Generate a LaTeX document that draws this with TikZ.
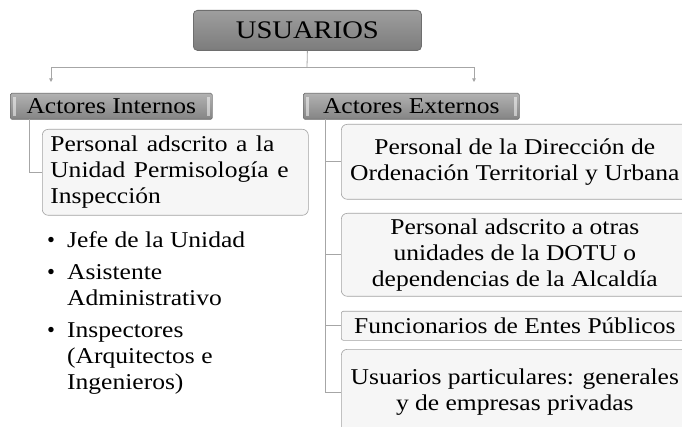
\documentclass[tikz,border=0pt]{standalone}
\usepackage{fontspec}
\setmainfont{Liberation Serif}
\usetikzlibrary{arrows.meta}
\newcommand\hs[1]{\scalebox{1.13}[1]{#1}}
\definecolor{linegray}{HTML}{A6A6A6}
\definecolor{boxborder}{HTML}{A3A3A3}
\definecolor{boxfill}{HTML}{F6F6F6}
\definecolor{ttop}{HTML}{9E9E9E}
\definecolor{tbot}{HTML}{7C7C7C}
\definecolor{hdtop}{HTML}{B2B2B2}
\definecolor{hdbot}{HTML}{848484}
\definecolor{hdborder}{HTML}{6E6E6E}
\tikzset{
  head/.style={draw=hdborder, top color=ttop, bottom color=tbot, rounded corners=4pt, inner sep=0pt, line width=0.8pt},
  sub/.style={draw=hdborder, top color=hdtop, bottom color=hdbot, rounded corners=1.5pt, inner sep=0pt, line width=0.6pt},
  card/.style={draw=boxborder, fill=boxfill, rounded corners=6pt, inner sep=0pt, line width=0.6pt},
  conn/.style={draw=linegray, line width=0.8pt},
  arr/.style={conn, -{Triangle[width=3.5pt,length=3.5pt]}},
  body/.style={font=\fontsize{22.6}{26}\selectfont},
  bevel/.style={fill=white, fill opacity=0.5},
}
\begin{document}
\begin{tikzpicture}[x=1pt,y=-1pt]
\clip (0,0) rectangle (682,427);
\fill[white] (0,0) rectangle (682,427);

% title
\node[head, minimum width=228pt, minimum height=40pt, anchor=north west,
      font=\fontsize{25.3}{30}\selectfont] (usr) at (193,10) {\hs{USUARIOS}};

% second level
\node[sub, body, minimum width=202pt, minimum height=26pt, anchor=north west] (int) at (10,93) {\hs{Actores Internos}};
\node[sub, body, minimum width=216pt, minimum height=26pt, anchor=north west] (ext) at (303,93) {\hs{Actores Externos}};
\fill[bevel] ([xshift=3pt,yshift=-4pt]int.north west) rectangle ([xshift=5.5pt,yshift=4pt]int.south west);
\fill[bevel] ([xshift=-5.5pt,yshift=-4pt]int.north east) rectangle ([xshift=-3pt,yshift=4pt]int.south east);
\fill[bevel] ([xshift=3pt,yshift=-4pt]ext.north west) rectangle ([xshift=5.5pt,yshift=4pt]ext.south west);
\fill[bevel] ([xshift=-5.5pt,yshift=-4pt]ext.north east) rectangle ([xshift=-3pt,yshift=4pt]ext.south east);

% connectors from title
\coordinate (j) at (307,67);
\coordinate (ai) at (51,82);
\coordinate (ae) at (474,82);
\draw[conn] (usr.south) -- (j);
\draw[arr] (j) -| (ai);
\draw[arr] (j) -| (ae);

% left branch
\node[card, body, minimum width=266pt, minimum height=86pt, text width=250pt, align=left,
      anchor=north west] (pa) at (42,129)
  {\hs{Personal adscrito a la}\\\hs{Unidad Permisología e}\\\hs{Inspección}};
\coordinate (ti) at (29,119);
\draw[conn] (ti) |- (pa.west);

\node[body, inner sep=0pt, anchor=north west] (lst) at (47,228.8) {%
  \begin{tabular}{@{}p{20pt}@{}l@{}}
  \textbullet & \hs{Jefe de la Unidad}\\[6pt]
  \textbullet & \hs{Asistente}\\
              & \hs{Administrativo}\\[6pt]
  \textbullet & \hs{Inspectores}\\
              & \hs{(Arquitectos e}\\
              & \hs{Ingenieros)}
  \end{tabular}};

% right branch
\node[card, body, minimum width=347pt, minimum height=75pt, align=center, anchor=north west] (b1) at (341,124)
  {\hs{Personal de la Dirección de}\\\hs{Ordenación Territorial y Urbana}};
\node[card, body, minimum width=347pt, minimum height=83pt, align=center, anchor=north west] (b2) at (341,213)
  {\hs{Personal adscrito a otras}\\\hs{unidades de la DOTU o}\\\hs{dependencias de la Alcaldía}};
\node[card, body, minimum width=347pt, minimum height=29pt, rounded corners=2pt, align=center, anchor=north west] (b3) at (341,311)
  {\hs{Funcionarios de Entes Públicos}};
\node[card, body, minimum width=347pt, minimum height=86pt, align=center, anchor=north west] (b4) at (341,349)
  {\hs{Usuarios particulares: generales}\\\hs{y de empresas privadas}};

\coordinate (te) at (325,119);
\draw[conn] (te) |- (b4.west);
\draw[conn] (te |- b1.west) -- (b1.west);
\draw[conn] (te |- b2.west) -- (b2.west);
\draw[conn] (te |- b3.west) -- (b3.west);
\end{tikzpicture}
\end{document}
